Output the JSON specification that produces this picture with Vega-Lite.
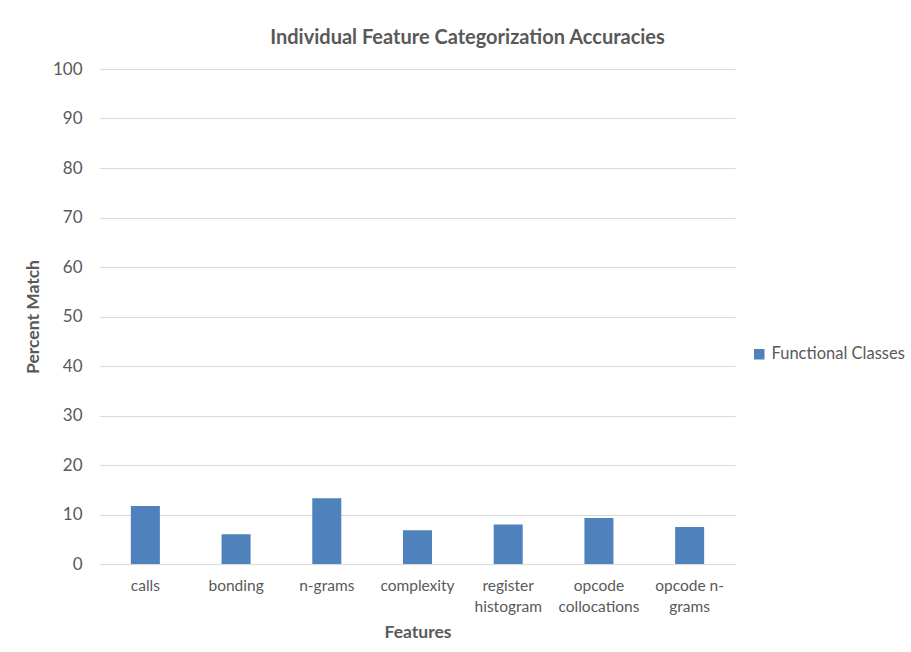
{
  "$schema": "https://vega.github.io/schema/vega-lite/v6.json",
  "width": 635,
  "height": 495,
  "autosize": {"type": "none"},
  "padding": {"left": 100, "top": 69, "right": 176, "bottom": 88},
  "background": "white",
  "title": {
    "text": "Individual Feature Categorization Accuracies",
    "font": "Lato",
    "fontSize": 20,
    "fontWeight": "bold",
    "color": "#595959",
    "anchor": "middle",
    "dx": 50,
    "offset": 12
  },
  "data": {
    "values": [
      {"feature": "calls", "accuracy": 11.7, "series": "Functional Classes"},
      {"feature": "bonding", "accuracy": 6.0, "series": "Functional Classes"},
      {"feature": "n-grams", "accuracy": 13.3, "series": "Functional Classes"},
      {"feature": "complexity", "accuracy": 6.8, "series": "Functional Classes"},
      {"feature": "register histogram", "accuracy": 8.0, "series": "Functional Classes"},
      {"feature": "opcode collocations", "accuracy": 9.3, "series": "Functional Classes"},
      {"feature": "opcode n-grams", "accuracy": 7.5, "series": "Functional Classes"}
    ]
  },
  "mark": {"type": "bar"},
  "encoding": {
    "x": {
      "field": "feature",
      "type": "nominal",
      "sort": null,
      "scale": {"paddingInner": 0.68, "paddingOuter": 0.34},
      "axis": {
        "title": "Features",
        "titleFont": "Lato",
        "titleFontSize": 17.5,
        "titleFontWeight": "bold",
        "titleColor": "#595959",
        "titlePadding": 9,
        "labelFont": "Lato",
        "labelFontSize": 15.5,
        "labelColor": "#595959",
        "labelAngle": 0,
        "labelPadding": 14,
        "labelLineHeight": 21,
        "labelExpr": "datum.label == 'opcode n-grams' ? ['opcode n-', 'grams'] : split(datum.label, ' ')",
        "domain": true,
        "domainColor": "#d9d9d9",
        "ticks": false
      }
    },
    "y": {
      "field": "accuracy",
      "type": "quantitative",
      "scale": {"domain": [0, 100]},
      "axis": {
        "title": "Percent Match",
        "titleFont": "Lato",
        "titleFontSize": 17.5,
        "titleFontWeight": "bold",
        "titleColor": "#595959",
        "titlePadding": 10,
        "values": [0, 10, 20, 30, 40, 50, 60, 70, 80, 90, 100],
        "labelFont": "Lato",
        "labelFontSize": 17,
        "labelColor": "#595959",
        "labelPadding": 18,
        "grid": true,
        "gridColor": "#d9d9d9",
        "domain": false,
        "ticks": false
      }
    },
    "color": {
      "field": "series",
      "type": "nominal",
      "scale": {"range": ["#4F81BD"]},
      "legend": {
        "title": null,
        "orient": "none",
        "legendX": 651,
        "legendY": 277,
        "symbolType": "square",
        "symbolSize": 110,
        "symbolStrokeWidth": 0,
        "labelFont": "Lato",
        "labelFontSize": 16.5,
        "labelColor": "#595959",
        "labelOffset": 4,
        "labelLimit": 400
      }
    }
  },
  "config": {
    "view": {"stroke": null}
  }
}
